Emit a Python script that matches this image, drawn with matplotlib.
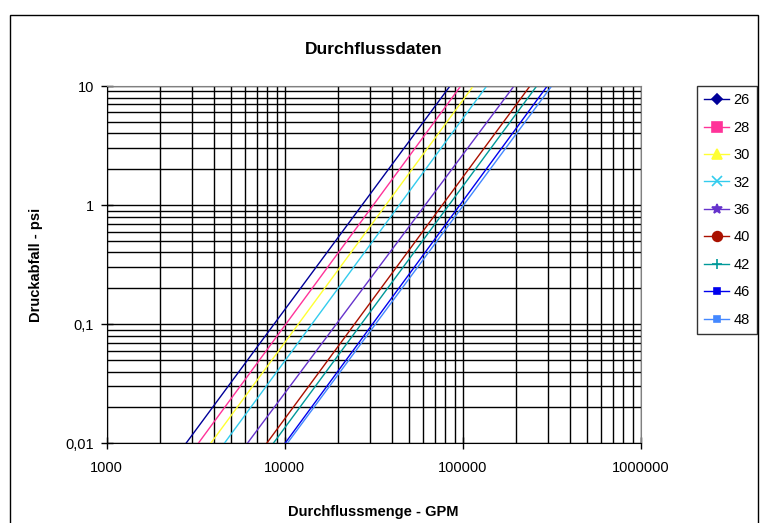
#!/usr/bin/env python3
import numpy as np
import matplotlib.pyplot as plt
from matplotlib.patches import Rectangle
from matplotlib.ticker import FixedLocator, LogLocator, NullFormatter

plt.rcParams['font.family'] = ['Liberation Sans', 'DejaVu Sans']

# series names and the flow (GPM) where each line meets 0.01 psi and 10 psi
SERIES = ["26", "28", "30", "32", "36", "40", "42", "46", "48"]
FLOW_LOW = [2790, 3270, 3840, 4580, 6170, 7920, 8630, 10040, 10340]
FLOW_HIGH = [84850, 97500, 114700, 136400, 194200, 238800, 260500, 298600, 316200]
DP_LOW = 0.01
DP_HIGH = 10.0

COLORS = ["#000099", "#FF3399", "#FFFF33", "#33CCEE", "#6633CC",
          "#AA1100", "#009999", "#0000EE", "#4488FF"]
MARKERS = ["D", "s", "^", "x", "*", "o", "+", "s", "s"]
MSIZES = [5, 7, 7, 7, 7, 7, 7, 4, 4]

X_TICKS = [1000, 10000, 100000, 1000000]
X_LABELS = ["1000", "10000", "100000", "1000000"]
Y_TICKS = [0.01, 0.1, 1, 10]
Y_LABELS = ["0,01", "0,1", "1", "10"]


def main():
    fig = plt.figure(figsize=(7.65, 5.23), dpi=100)
    ax = fig.add_axes([106.7 / 765, 1 - 443.3 / 523, 534 / 765, 357.3 / 523])

    handles = []
    for name, x0, x1, c, m, ms in zip(SERIES, FLOW_LOW, FLOW_HIGH, COLORS, MARKERS, MSIZES):
        ax.plot([x0, x1], [DP_LOW, DP_HIGH], color=c, linewidth=1.0)
        # legend proxy with marker (markers sit outside the visible range in the original)
        h, = ax.plot([], [], color=c, marker=m, markersize=ms, linewidth=1.0,
                     markeredgewidth=1.2)
        handles.append(h)

    ax.set_xscale("log")
    ax.set_yscale("log")
    ax.set_xlim(1000, 1000000)
    ax.set_ylim(0.01, 10)

    ax.xaxis.set_major_locator(FixedLocator(X_TICKS))
    ax.set_xticklabels(X_LABELS)
    ax.yaxis.set_major_locator(FixedLocator(Y_TICKS))
    ax.set_yticklabels(Y_LABELS)
    ax.xaxis.set_minor_locator(LogLocator(base=10, subs=np.arange(2, 10)))
    ax.yaxis.set_minor_locator(LogLocator(base=10, subs=np.arange(2, 10)))
    ax.xaxis.set_minor_formatter(NullFormatter())
    ax.yaxis.set_minor_formatter(NullFormatter())

    ax.grid(True, which="both", color="black", linewidth=1.0)
    ax.set_axisbelow(True)
    ax.tick_params(which="major", direction="inout", length=8, width=1.0,
                   labelsize=10.5)
    ax.tick_params(which="minor", length=0)
    ax.tick_params(axis="y", pad=5)
    ax.tick_params(axis="x", pad=9)

    for side in ["top", "right"]:
        ax.spines[side].set_color("#808080")
    for side in ["left", "bottom"]:
        ax.spines[side].set_color("black")

    ax.set_title("Durchflussdaten", fontsize=12.5, fontweight="bold", pad=23)
    ax.set_xlabel("Durchflussmenge - GPM", fontsize=10.5, fontweight="bold", labelpad=21)
    ax.set_ylabel("Druckabfall - psi", fontsize=10.5, fontweight="bold", labelpad=16)

    leg = ax.legend(handles, SERIES, loc="upper left", bbox_to_anchor=(697 / 765, 1 - 86 / 523),
                    bbox_transform=fig.transFigure, frameon=True, fancybox=False,
                    edgecolor="black", fontsize=10.5, handlelength=1.7,
                    labelspacing=0.92, borderpad=0.5, handletextpad=0.3,
                    borderaxespad=0)
    leg.get_frame().set_linewidth(1.0)

    # outer chart border
    fig.patches.append(Rectangle((10 / 765, -0.02), 748 / 765, 1 - 15 / 523 + 0.02,
                                 transform=fig.transFigure, fill=False,
                                 edgecolor="black", linewidth=1.0))

    fig.savefig("out.png", dpi=100)


if __name__ == "__main__":
    main()
